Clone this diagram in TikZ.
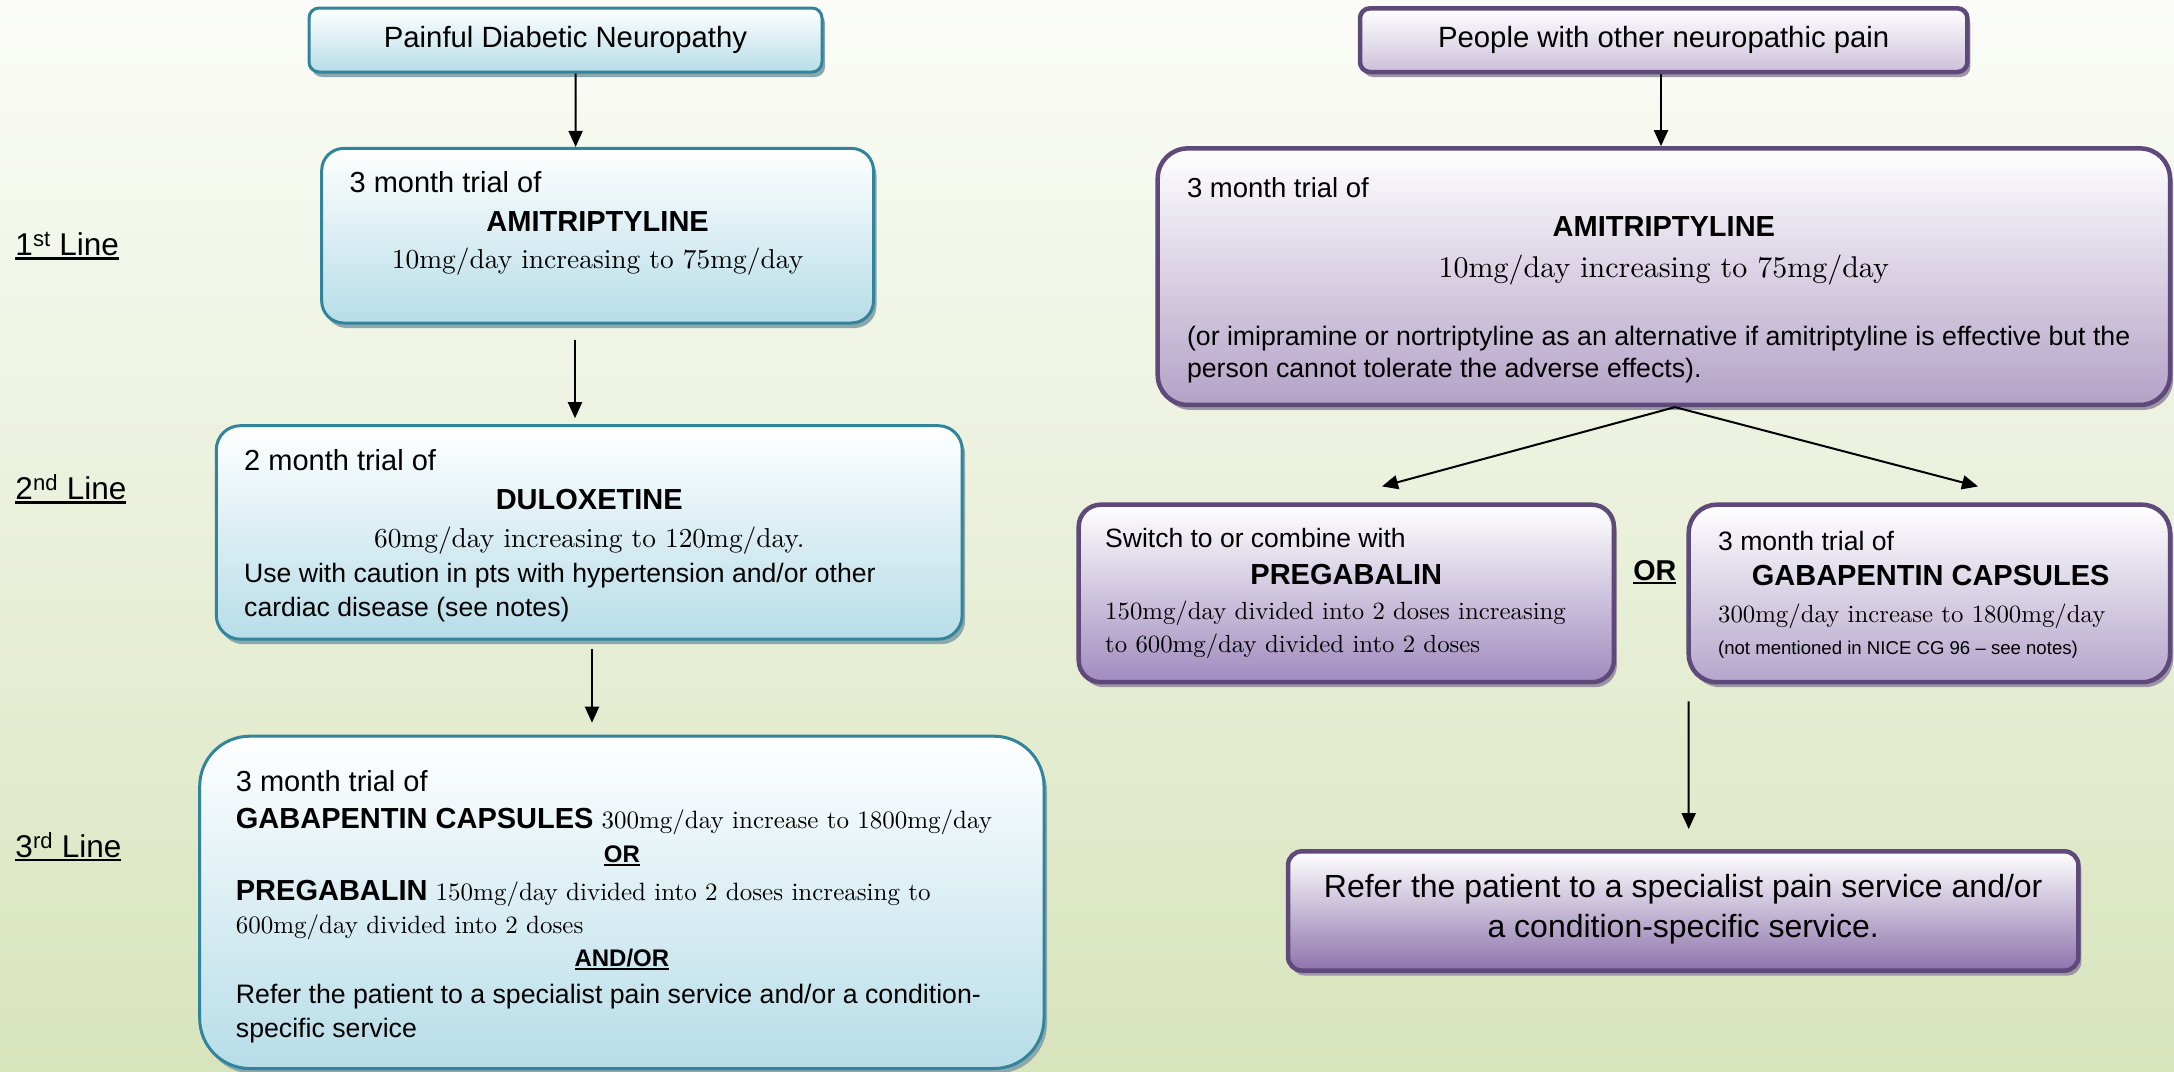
\documentclass[tikz,border=0pt]{standalone}
\usepackage{fontspec}
\setmainfont{Liberation Sans}
\newfontfamily\dosefont{lmroman10-regular.otf}
\usetikzlibrary{arrows.meta,shadows}
\definecolor{bgtop}{HTML}{FBFCF8}
\definecolor{bgbot}{HTML}{D8E4BC}
\definecolor{bluebot}{HTML}{B7DDE8}
\definecolor{blueborder}{HTML}{31849B}
\definecolor{bshadow}{HTML}{8EA7AC}
\definecolor{purpleborder}{HTML}{5F497A}
\definecolor{pshadow}{HTML}{9C95A3}
\definecolor{pplbot}{HTML}{CCC0DA}
\definecolor{amibot}{HTML}{B3A2C7}
\definecolor{pregbot}{HTML}{A08BBE}
\definecolor{gabbot}{HTML}{B4A5CB}
\definecolor{refbot}{HTML}{8D73AC}
\newcommand\fsz[1]{\fontsize{#1}{#1}\selectfont}
\newcommand\myul[1]{\setbox0=\hbox{#1}\leavevmode\rlap{\rule[-0.13em]{\wd0}{0.075em}}\box0}
\tikzset{
  bbox/.style={draw=blueborder, line width=3pt, top color=white, bottom color=bluebot,
    drop shadow={shadow xshift=3pt, shadow yshift=-5pt, fill=bshadow, opacity=1},
    inner sep=0pt, rectangle},
  pbox/.style={draw=purpleborder, line width=4.5pt, top color=white, bottom color=#1,
    drop shadow={shadow xshift=3pt, shadow yshift=-5pt, fill=pshadow, opacity=1},
    inner sep=0pt, rectangle},
  lt/.style={inner sep=0pt, anchor=base west},
  ct/.style={inner sep=0pt, anchor=base},
  arr/.style={-{Triangle[length=16pt,width=14pt]}, line width=2pt, black},
}
\begin{document}
\begin{tikzpicture}[x=1pt,y=-1pt]
\useasboundingbox (0,0) rectangle (2174,1071);
\shade[top color=bgtop,bottom color=bgbot] (0,0) rectangle (2174,1071);

% ---------- left column boxes ----------
\node[bbox, rounded corners=10pt, minimum width=513pt, minimum height=64pt] (pdn) at (565.5,40)
  {\fsz{29.3}Painful Diabetic Neuropathy};
\node[bbox, rounded corners=22pt, minimum width=551.8pt, minimum height=174.6pt] (ami1) at (597.6,235.7) {};
\node[bbox, rounded corners=24pt, minimum width=745.9pt, minimum height=213.5pt] (dul) at (589.25,532.45) {};
\node[bbox, rounded corners=50pt, minimum width=844.3pt, minimum height=332.3pt] (l3) at (621.85,902.35) {};

% ---------- right column boxes ----------
\node[pbox=pplbot, rounded corners=10pt, minimum width=607.4pt, minimum height=63.7pt] (ppl) at (1663.7,40.15)
  {\fsz{29.3}People with other neuropathic pain};
\node[pbox=amibot, rounded corners=30pt, minimum width=1012.3pt, minimum height=256.5pt] (ami2) at (1663.85,276.65) {};
\node[pbox=pregbot, rounded corners=22pt, minimum width=535.2pt, minimum height=177.5pt] (preg) at (1346.3,593.45) {};
\node[pbox=gabbot, rounded corners=28pt, minimum width=481.3pt, minimum height=177.5pt] (gab) at (1929.35,593.45) {};
\node[pbox=refbot, rounded corners=14pt, minimum width=790.4pt, minimum height=119.3pt] (ref) at (1683.2,910.95) {};

% ---------- line labels ----------
\node[lt] (l1lab) at (15.3,255.5) {\fsz{31.5}\myul{1\textsuperscript{st} Line}};
\node[lt] (l2lab) at (15.3,499.5) {\fsz{31.5}\myul{2\textsuperscript{nd} Line}};
\node[lt] (l3lab) at (15.3,857.3) {\fsz{31.5}\myul{3\textsuperscript{rd} Line}};

% ---------- text: left amitriptyline ----------
\node[lt] (a1t1) at (349.4,192) {\fsz{29}3 month trial of};
\node[ct] (a1t2) at (597.6,231) {\fsz{29}\bfseries AMITRIPTYLINE};
\node[ct] (a1t3) at (597.6,268.3) {\fsz{27.4}\dosefont 10mg/day increasing to 75mg/day};

% ---------- text: duloxetine ----------
\node[lt] (d1) at (244,470.7) {\fsz{29}2 month trial of};
\node[ct] (d2) at (589.25,509.5) {\fsz{29}\bfseries DULOXETINE};
\node[ct] (d3) at (589.25,547) {\fsz{27.4}\dosefont 60mg/day increasing to 120mg/day.};
\node[lt] (d4) at (244,582.2) {\fsz{26.6}Use with caution in pts with hypertension and/or other};
\node[lt] (d5) at (244,616.9) {\fsz{26.6}cardiac disease (see notes)};

% ---------- text: third line ----------
\node[lt] (t1) at (235.7,791) {\fsz{29}3 month trial of};
\node[lt] (t2) at (235.7,828.5) {{\fsz{29}\bfseries GABAPENTIN CAPSULES }{\fsz{25}\dosefont 300mg/day increase to 1800mg/day}};
\node[ct] (t3) at (621.85,862.6) {\fsz{24}\bfseries\myul{OR}};
\node[lt] (t4) at (235.7,900.5) {{\fsz{29}\bfseries PREGABALIN }{\fsz{25}\dosefont 150mg/day divided into 2 doses increasing to}};
\node[lt] (t5) at (235.7,933) {\fsz{25}\dosefont 600mg/day divided into 2 doses};
\node[ct] (t6) at (621.85,966.6) {\fsz{24}\bfseries\myul{AND/OR}};
\node[lt] (t7) at (235.7,1003.6) {\fsz{26.7}Refer the patient to a specialist pain service and/or a condition-};
\node[lt] (t8) at (235.7,1037) {\fsz{26.7}specific service};

% ---------- text: right amitriptyline ----------
\node[lt] (r1) at (1186.8,197) {\fsz{27.5}3 month trial of};
\node[ct] (r2) at (1663.85,236.5) {\fsz{29}\bfseries AMITRIPTYLINE};
\node[ct] (r3) at (1663.85,277.5) {\fsz{30}\dosefont 10mg/day increasing to 75mg/day};
\node[lt] (r4) at (1186.8,345.1) {\fsz{26.7}(or imipramine or nortriptyline as an alternative if amitriptyline is effective but the};
\node[lt] (r5) at (1186.8,377) {\fsz{26.7}person cannot tolerate the adverse effects).};

% ---------- text: pregabalin ----------
\node[lt] (p1) at (1105,547.5) {\fsz{26.5}Switch to or combine with};
\node[ct] (p2) at (1346.3,584.4) {\fsz{29}\bfseries PREGABALIN};
\node[lt] (p3) at (1105,619.6) {\fsz{24.8}\dosefont 150mg/day divided into 2 doses increasing};
\node[lt] (p4) at (1105,652.9) {\fsz{24.8}\dosefont to 600mg/day divided into 2 doses};

% ---------- text: gabapentin ----------
\node[lt] (g1) at (1717.9,550.3) {\fsz{26.6}3 month trial of};
\node[ct] (g2) at (1930.7,585.8) {\fsz{29}\bfseries GABAPENTIN CAPSULES};
\node[lt] (g3) at (1717.9,622.4) {\fsz{24.8}\dosefont 300mg/day increase to 1800mg/day};
\node[lt] (g4) at (1717.9,654.2) {\fsz{18.6}(not mentioned in NICE CG 96 – see notes)};

\node[ct] (orlab) at (1654.8,580.2) {\fsz{28.7}\bfseries\myul{OR}};

% ---------- text: refer ----------
\node[ct] (f1) at (1683.2,897.5) {\fsz{32}Refer the patient to a specialist pain service and/or};
\node[ct] (f2) at (1683.2,937.7) {\fsz{32}a condition-specific service.};

% ---------- arrows ----------
\draw[arr] ([xshift=10pt]pdn.south) -- ([xshift=-22pt]ami1.north);
\draw[arr] ([xshift=-22.6pt,yshift=-15pt]ami1.south) -- ([xshift=-14.25pt,yshift=6pt]dul.north);
\draw[arr] ([xshift=2.75pt,yshift=-8pt]dul.south) -- ([xshift=-29.85pt,yshift=12pt]l3.north);
\draw[arr] ([xshift=-2.7pt]ppl.south) -- ([xshift=-2.85pt]ami2.north);
\draw[arr] ([xshift=11.15pt]ami2.south) -- ([xshift=35.7pt,yshift=16pt]preg.north);
\draw[arr] ([xshift=11.15pt]ami2.south) -- ([xshift=48.65pt,yshift=16pt]gab.north);
\draw[arr] ([xshift=2.25pt,yshift=-17pt]gab.south west) -- ([xshift=5.5pt,yshift=20pt]ref.north);
\end{tikzpicture}
\end{document}
